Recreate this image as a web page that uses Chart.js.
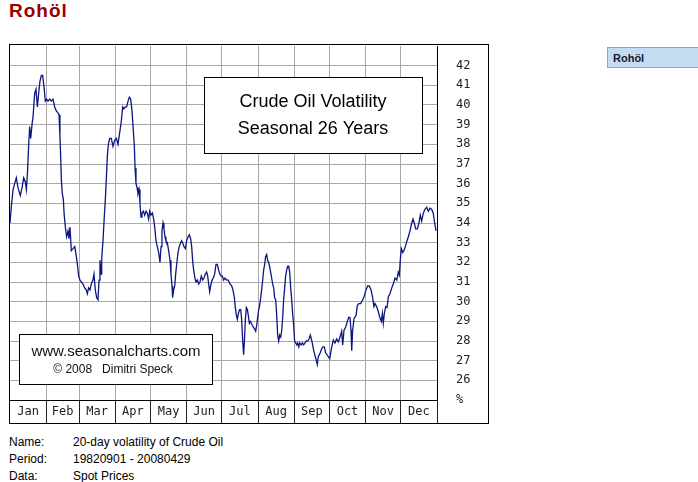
<!DOCTYPE html>
<html>
<head>
<meta charset="utf-8">
<script src="https://cdn.jsdelivr.net/npm/chart.js@4/dist/chart.umd.min.js"></script>
<style>
  body { margin: 0; width: 698px; height: 482px; background: #fff; overflow: hidden; position: relative; font-family: "Liberation Sans", Arial, sans-serif; }
  #title { position: absolute; left: 9px; top: 1px; font-size: 19px; line-height: 20px; font-weight: bold; color: #990000; letter-spacing: 1px; }
  #side { position: absolute; left: 607px; top: 47px; width: 100px; height: 21px; background: #c4dcf2; border: 1px solid #8ea6bf; box-sizing: border-box; font-size: 11px; font-weight: bold; color: #1a1a2e; padding-left: 5px; line-height: 20px; }
  #wrap { position: absolute; left: 9px; top: 44px; width: 480px; height: 380px; }
  #info { position: absolute; left: 9px; top: 434px; font-size: 12px; line-height: 17px; color: #000; }
  #info span { display: inline-block; width: 64px; }
</style>
</head>
<body>
<div id="title">Rohöl</div>
<div id="side">Rohöl</div>
<div id="wrap"><canvas id="chart" width="480" height="380"></canvas></div>
<div id="info">
  <div><span>Name:</span>20-day volatility of Crude Oil</div>
  <div><span>Period:</span>19820901 - 20080429</div>
  <div><span>Data:</span>Spot Prices</div>
</div>
<script>
const months = ["Jan", "Feb", "Mar", "Apr", "May", "Jun", "Jul", "Aug", "Sep", "Oct", "Nov", "Dec"];
const monthStart = [0, 31, 59, 90, 120, 151, 181, 212, 243, 273, 304, 334, 365];

// day of year -> volatility in %
const days = [
  0.0, 1.1, 2.6, 4.0, 5.4, 6.8, 8.8, 10.3, 11.7, 13.1, 14.0, 14.8, 16.0, 16.8, 17.7, 18.8, 19.7,
  21.1, 22.2, 23.4, 24.5, 25.6, 26.8, 27.9, 29.1, 30.2, 31.3, 32.5, 33.9, 35.3, 36.8, 38.2, 39.6,
  41.0, 41.9, 42.7, 43.3, 43.9, 44.7, 45.6, 46.2, 47.3, 48.4, 49.6, 50.4, 51.3, 52.4, 53.9, 55.3,
  56.7, 57.6, 58.7, 59.8, 61.0, 62.4, 63.8, 65.2, 66.1, 67.2, 68.4, 69.5, 70.9, 71.8, 72.9, 74.1,
  75.2, 76.1, 76.9, 77.8, 78.4, 79.5, 80.4, 81.5, 82.3, 83.2, 84.1, 85.2, 86.6, 88.0, 89.5, 90.9,
  92.3, 94.0, 95.2, 96.3, 97.4, 98.6, 99.7, 100.9, 102.0, 103.1, 104.3, 105.4, 106.3, 106.9, 107.7,
  108.6, 109.4, 110.3, 111.1, 112.0, 112.8, 114.0, 115.1, 116.3, 117.4, 118.5, 119.4, 120.5, 121.7,
  122.8, 123.7, 124.8, 125.9, 127.1, 128.2, 129.1, 129.9, 130.8, 131.6, 132.5, 133.3, 134.5, 135.6,
  136.8, 137.6, 138.5, 139.0, 139.9, 140.8, 141.6, 142.5, 143.6, 144.7, 145.9, 146.7, 147.6, 148.7,
  149.9, 151.0, 152.2, 153.3, 154.4, 155.3, 156.1, 157.0, 158.1, 159.0, 160.1, 161.3, 162.4, 163.5,
  164.7, 165.8, 167.0, 168.1, 169.0, 169.8, 170.7, 171.5, 172.7, 173.8, 174.9, 176.1, 177.2, 178.4,
  179.5, 180.6, 181.5, 182.6, 183.8, 185.2, 186.6, 188.1, 189.5, 190.6, 191.8, 192.6, 193.5, 194.3,
  195.2, 196.3, 197.2, 198.0, 198.9, 199.7, 200.3, 201.2, 202.0, 202.9, 203.7, 204.6, 205.4, 206.3,
  207.1, 208.0, 209.2, 210.0, 210.9, 211.7, 212.6, 213.4, 214.3, 215.1, 216.0, 216.8, 217.7, 218.5,
  219.4, 220.2, 221.1, 221.9, 222.8, 223.7, 224.5, 225.4, 226.2, 227.1, 227.9, 228.8, 229.7, 230.5,
  231.4, 232.2, 233.1, 233.9, 234.8, 235.6, 236.5, 237.4, 238.2, 239.1, 239.9, 240.8, 241.6, 242.5,
  243.3, 244.2, 245.1, 245.9, 246.8, 247.6, 248.8, 249.9, 251.0, 252.2, 253.3, 254.5, 255.6, 256.7,
  257.6, 258.4, 259.3, 260.1, 261.0, 261.8, 262.7, 263.5, 264.4, 265.2, 266.4, 267.5, 268.7, 269.8,
  271.0, 272.1, 273.3, 275.0, 276.4, 277.8, 279.2, 280.7, 282.1, 283.5, 284.4, 285.5, 286.9, 288.4,
  289.5, 290.6, 291.5, 292.1, 292.9, 294.1, 295.8, 296.9, 298.1, 299.8, 301.5, 302.9, 304.3, 305.7,
  307.1, 308.6, 310.0, 311.1, 312.0, 313.4, 314.8, 316.3, 317.4, 318.3, 319.1, 320.0, 321.1, 322.3,
  323.4, 324.8, 326.3, 327.6, 329.1, 330.6, 331.9, 332.8, 333.6, 334.5, 335.7, 336.8, 337.9, 339.1,
  340.5, 341.9, 343.4, 344.5, 345.6, 346.8, 348.2, 349.6, 350.7, 351.9, 353.3, 354.7, 356.2, 357.6,
  359.0, 360.4, 361.8, 363.0, 364.2
];
const vol = [
  34.0, 34.8, 35.7, 36.0, 36.3, 35.8, 35.4, 35.8, 36.3, 36.1, 35.7, 36.4, 38.0, 38.9, 38.3, 39.0, 39.4,
  40.6, 40.8, 39.9, 40.6, 41.2, 41.5, 41.5, 40.9, 40.2, 40.3, 40.2, 40.3, 40.2, 40.3, 39.9, 39.7,
  39.6, 39.5, 38.4, 37.4, 36.2, 35.5, 35.2, 34.5, 33.8, 33.3, 33.6, 33.2, 33.8, 32.6, 32.7, 32.8,
  32.3, 31.9, 31.3, 31.1, 31.0, 30.9, 30.7, 30.6, 30.4, 30.7, 30.6, 30.9, 31.1, 31.4, 30.6, 30.2,
  30.1, 31.1, 32.1, 31.4, 32.2, 33.1, 34.1, 35.2, 36.2, 37.4, 38.0, 38.3, 38.3, 37.9, 38.2, 38.3,
  38.0, 38.7, 39.2, 39.9, 39.8, 39.9, 39.9, 40.2, 40.4, 40.3, 39.7, 38.7, 37.9, 36.8, 36.0,
  35.8, 35.5, 35.7, 35.0, 34.3, 34.5, 34.6, 34.4, 34.6, 34.5, 34.2, 34.6, 34.4, 34.5,
  34.2, 33.8, 33.1, 32.8, 32.5, 32.0, 32.8, 33.6, 34.0, 33.7, 33.3, 33.1, 33.0, 32.6,
  32.1, 31.4, 30.8, 30.2, 30.6, 30.8, 31.4, 31.9, 32.5, 32.8, 33.0, 33.1, 33.0, 32.8,
  32.7, 33.1, 33.3, 33.4, 33.2, 32.8, 32.1, 31.6, 31.2, 31.0, 31.1, 30.9, 31.0, 31.3,
  31.1, 31.2, 31.4, 31.5, 31.3, 30.9, 30.5, 30.8, 31.1, 31.2, 31.4, 31.9, 31.9, 31.6,
  31.4, 31.3, 31.3, 31.1, 31.2, 31.1, 31.1, 30.9, 30.8, 30.6, 30.2, 29.7, 29.3, 29.1,
  29.4, 29.6, 29.6, 29.1, 28.0, 27.3, 27.9, 29.1, 29.7, 29.6, 29.3, 28.9, 29.0, 28.9,
  28.8, 28.7, 28.6, 28.5, 28.8, 29.2, 29.6, 29.8, 30.2, 30.6, 31.1, 31.6, 31.9, 32.3,
  32.4, 32.1, 32.0, 31.8, 31.5, 31.2, 30.9, 30.7, 30.2, 30.1, 29.4, 28.3, 28.0, 28.3,
  28.2, 28.5, 29.2, 30.1, 30.7, 31.3, 31.6, 31.8, 31.8, 31.5, 30.7, 30.1, 29.4, 28.8,
  28.0, 27.9, 27.8, 27.9, 27.7, 27.9, 27.8, 27.9, 27.8, 27.9, 28.0, 28.0, 28.1, 28.3,
  28.1, 27.9, 27.6, 27.4, 27.2, 27.0, 26.8, 27.2, 27.3, 27.4, 27.6, 27.7, 27.7, 27.4,
  27.3, 27.2, 27.1, 27.7, 28.05, 27.9, 28.1, 27.95, 28.2, 28.5, 27.8, 28.55, 28.7, 29.0,
  29.2, 29.2, 28.55, 27.5, 28.55, 29.15, 29.3, 29.8, 29.9, 29.9, 30.1, 30.3, 30.6, 30.8,
  30.8, 30.6, 30.2, 29.75, 29.9, 29.75, 29.5, 29.15, 29.0, 29.4, 28.9, 29.4, 29.75, 29.7,
  30.25, 30.4, 30.7, 30.9, 31.2, 31.1, 31.5, 31.35, 32.1, 32.7, 32.5, 32.6, 32.8, 33.05,
  33.3, 33.6, 34.0, 34.2, 34.0, 33.7, 33.7, 34.0, 34.4, 34.1, 34.5, 34.7, 34.8, 34.6,
  34.75, 34.7, 34.5, 34.0, 33.6
];

const yMin = 25, yMax = 43;
const titleLines = ["Crude Oil Volatility", "Seasonal 26 Years"];
const creditLines = ["www.seasonalcharts.com", "\u00a9 2008   Dimitri Speck"];

const gridGrey = "#a8a8a8";
const monoFont = { family: "'DejaVu Sans Mono', monospace", size: 12 };

// month boundaries carry the grid, month middles carry the names
const monthMid = months.map((m, i) => (monthStart[i] + monthStart[i + 1]) / 2);
const isStart = v => monthStart.includes(v);

const boxes = {
  id: "boxes",
  beforeDatasetsDraw(chart) {
    const ctx = chart.ctx;
    ctx.save();
    ctx.fillStyle = "#fff";
    ctx.strokeStyle = "#000";
    ctx.lineWidth = 1;
    ctx.fillRect(195.5, 33.5, 218, 76);
    ctx.strokeRect(195.5, 33.5, 218, 76);
    ctx.fillRect(10.5, 290.5, 193, 50);
    ctx.strokeRect(10.5, 290.5, 193, 50);

    ctx.fillStyle = "#000";
    ctx.textAlign = "center";
    ctx.textBaseline = "alphabetic";
    ctx.font = "18px 'Liberation Sans', Arial, sans-serif";
    ctx.fillText(titleLines[0], 304, 62.5);
    ctx.fillText(titleLines[1], 304, 89.5);

    ctx.fillStyle = "#111";
    ctx.font = "15px 'Liberation Sans', Arial, sans-serif";
    ctx.fillText(creditLines[0], 107, 312);
    ctx.font = "12px 'Liberation Sans', Arial, sans-serif";
    ctx.fillText(creditLines[1], 104, 328.5);
    ctx.restore();
  },
  afterDraw(chart) {
    const ctx = chart.ctx;
    ctx.save();
    ctx.strokeStyle = "#000";
    ctx.lineWidth = 1;
    ctx.strokeRect(0.5, 0.5, chart.width - 1, chart.height - 1);
    ctx.restore();
  }
};

new Chart(document.getElementById("chart"), {
  type: "line",
  data: {
    datasets: [{
      data: days.map((d, i) => ({ x: d, y: vol[i] })),
      borderColor: "#0c1680",
      borderWidth: 1.3,
      pointRadius: 0,
      tension: 0,
      fill: false
    }]
  },
  options: {
    responsive: false,
    animation: false,
    layout: { padding: { left: 1, top: 2, right: 0, bottom: 1 } },
    plugins: { legend: { display: false }, tooltip: { enabled: false } },
    scales: {
      x: {
        type: "linear",
        position: "bottom",
        min: 0,
        max: 365,
        afterBuildTicks: s => {
          s.ticks = monthStart.concat(monthMid).sort((a, b) => a - b).map(v => ({ value: v }));
        },
        afterFit: s => { s.height = 23; },
        grid: {
          color: c => (c.tick && isStart(c.tick.value) && c.tick.value > 0 && c.tick.value < 365) ? gridGrey : "transparent",
          tickColor: c => (c.tick && isStart(c.tick.value) && c.tick.value > 0) ? "#222" : "transparent",
          tickLength: 23,
          lineWidth: 1
        },
        border: { color: "#000", width: 1 },
        ticks: {
          autoSkip: false,
          maxRotation: 0,
          padding: -18.5,
          color: "#222",
          font: monoFont,
          callback: v => {
            const k = monthMid.indexOf(v);
            return k >= 0 ? months[k] : "";
          }
        }
      },
      y: {
        position: "right",
        min: yMin,
        max: yMax,
        afterFit: s => { s.width = 52; },
        grid: {
          drawTicks: true,
          tickLength: 19,
          tickColor: "transparent",
          color: c => (c.tick && (c.tick.value === yMin || c.tick.value === yMax)) ? "transparent" : gridGrey
        },
        border: { color: "#000", width: 1 },
        ticks: {
          stepSize: 1,
          autoSkip: false,
          padding: 0,
          color: "#222",
          font: { family: monoFont.family, size: 12, lineHeight: 0.1 },
          callback: v => v === yMin ? "%" : (v === yMax ? null : String(v))
        }
      }
    }
  },
  plugins: [boxes]
});
</script>
</body>
</html>
